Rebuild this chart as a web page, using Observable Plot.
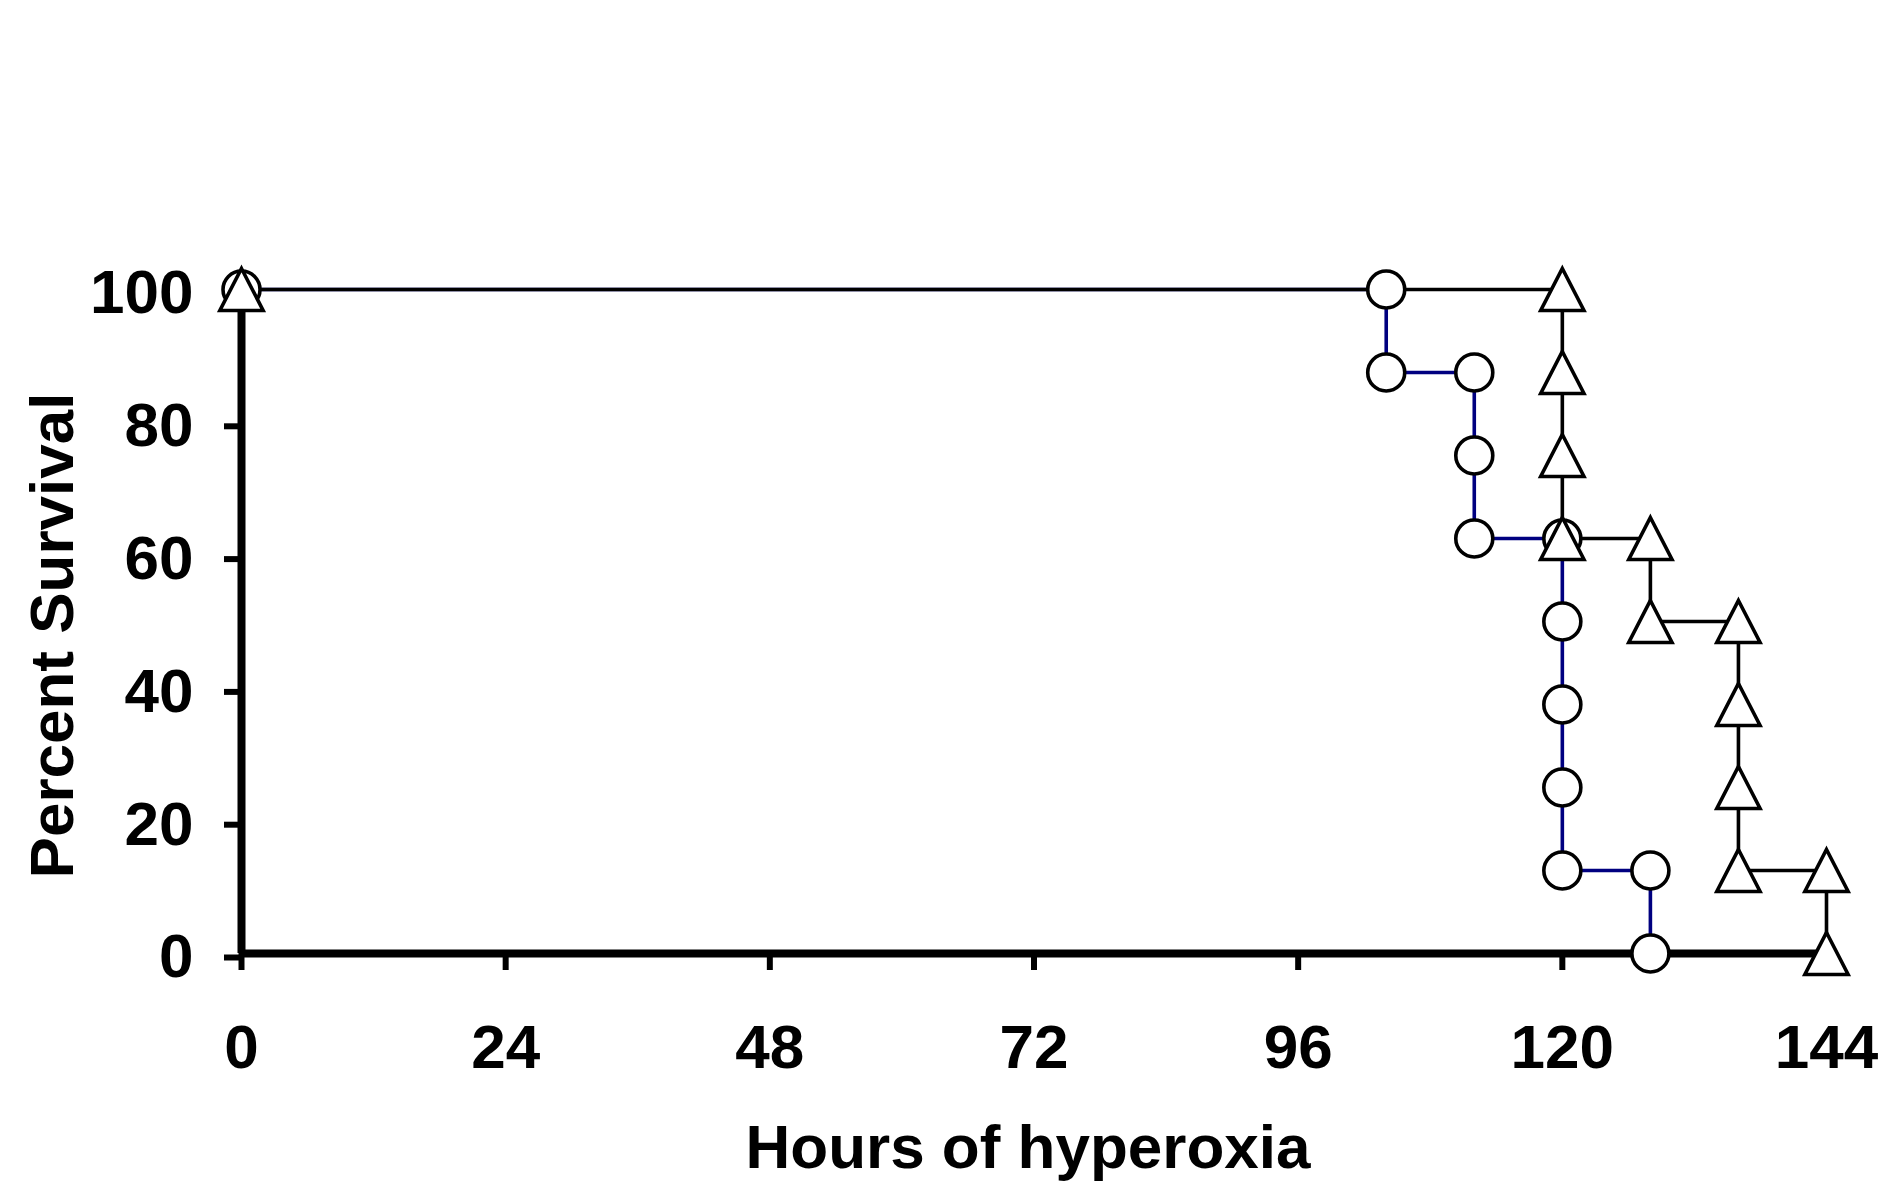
<!DOCTYPE html>
<html>
<head>
<meta charset="utf-8">
<script src="https://cdn.jsdelivr.net/npm/d3@7"></script>
<script src="https://cdn.jsdelivr.net/npm/@observablehq/plot@0.6"></script>
<style>
  html, body { margin: 0; padding: 0; background: #fff; }
</style>
</head>
<body>
<div id="chart"></div>
<script>
// Survival data (Kaplan-Meier steps), hours of hyperoxia vs percent survival
const hoursCircle = [0, 104, 104, 112, 112, 112, 120, 120, 120, 120, 120, 128, 128];
const survCircle  = [100, 100, 87.5, 87.5, 75, 62.5, 62.5, 50, 37.5, 25, 12.5, 12.5, 0];
const hoursTriangle = [0, 120, 120, 120, 120, 128, 128, 136, 136, 136, 136, 144, 144];
const survTriangle  = [100, 100, 87.5, 75, 62.5, 62.5, 50, 50, 37.5, 25, 12.5, 12.5, 0];
const xTicks = [0, 24, 48, 72, 96, 120, 144];
const yTicks = [0, 20, 40, 60, 80, 100];
const xTitle = "Hours of hyperoxia";
const yTitle = "Percent Survival";

const circles = hoursCircle.map((h, i) => ({hours: h, survival: survCircle[i]}));
const triangles = hoursTriangle.map((h, i) => ({hours: h, survival: survTriangle[i]}));

// Triangle symbol centred on its bounding box
const boxTriangle = {
  draw(context, size) {
    const r = Math.sqrt(size / Math.PI);
    const w = r * 1.03;
    context.moveTo(0, -r);
    context.lineTo(w, r);
    context.lineTo(-w, r);
    context.closePath();
  }
};

const font = "'Liberation Sans', Arial, Helvetica, sans-serif";

const chart = Plot.plot({
  width: 1884,
  height: 1183,
  marginLeft: 241,
  marginRight: 58,
  marginTop: 289,
  marginBottom: 230,
  style: {fontFamily: font, fontWeight: "bold", fontSize: "62px", color: "#000", background: "#fff"},
  x: {domain: [0, 144]},
  y: {domain: [0, 100]},
  marks: [
    Plot.axisX({ticks: xTicks, tickSize: 17, tickPadding: 53, strokeWidth: 6, fontSize: 62, fontWeight: "bold", label: null, tickFormat: d => String(d)}),
    Plot.axisY({ticks: yTicks, tickSize: 17, tickPadding: 31, strokeWidth: 6, fontSize: 62, fontWeight: "bold", dy: 4, label: null, tickFormat: d => String(d)}),
    Plot.ruleY([0], {stroke: "#000", strokeWidth: 8}),
    Plot.ruleX([0], {y1: 0, y2: 100, stroke: "#000", strokeWidth: 8}),
    Plot.line(circles, {x: "hours", y: "survival", stroke: "#000080", strokeWidth: 3.6}),
    Plot.line(triangles, {x: "hours", y: "survival", stroke: "#000", strokeWidth: 3.6}),
    Plot.dot(circles, {x: "hours", y: "survival", r: 18.5, fill: "#fff", stroke: "#000", strokeWidth: 3.6}),
    Plot.dot(triangles, {x: "hours", y: "survival", r: 21, symbol: boxTriangle, fill: "#fff", stroke: "#000", strokeWidth: 3.6}),
    Plot.text([xTitle], {frameAnchor: "bottom", lineAnchor: "middle", textAnchor: "middle", dy: 195, dx: -6, fontSize: 62, fontWeight: "bold"}),
    Plot.text([yTitle], {frameAnchor: "left", lineAnchor: "middle", textAnchor: "middle", rotate: -90, dx: -188, dy: 14, fontSize: 62, fontWeight: "bold"})
  ]
});

document.getElementById("chart").appendChild(chart);
</script>
</body>
</html>
